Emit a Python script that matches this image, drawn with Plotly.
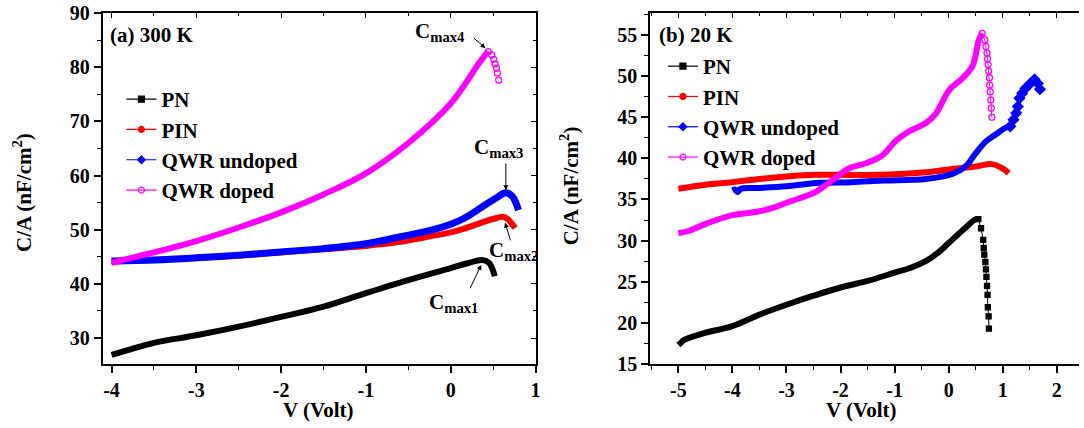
import plotly.graph_objects as go

# ---------------- DATA ----------------
# Panel (a) 300 K
pn_300_v = [-4.0, -3.8, -3.5, -3.0, -2.5, -2.0, -1.5, -1.0, -0.5, 0.0, 0.2, 0.37, 0.45, 0.49, 0.52]
pn_300_c = [26.9, 27.8, 29.1, 30.5, 32.1, 33.9, 35.8, 38.3, 40.7, 42.9, 43.8, 44.4, 43.9, 42.8, 41.4]

pin_300_v = [-4.0, -3.5, -3.0, -2.5, -2.0, -1.5, -1.0, -0.62, -0.23, 0.0, 0.16, 0.4, 0.55, 0.61, 0.67, 0.72, 0.76]
pin_300_c = [44.1, 44.4, 44.8, 45.2, 45.8, 46.4, 47.0, 47.7, 48.8, 49.5, 50.2, 51.5, 52.2, 52.4, 52.0, 51.1, 50.3]

qu_300_v = [-4.0, -3.5, -3.0, -2.5, -2.0, -1.5, -1.0, -0.62, -0.23, 0.0, 0.16, 0.4, 0.55, 0.65, 0.73, 0.77, 0.8]
qu_300_c = [44.2, 44.4, 44.8, 45.3, 45.9, 46.5, 47.4, 48.6, 49.9, 51.0, 52.1, 54.5, 56.0, 56.8, 56.1, 54.9, 53.6]

qd_300_v = [-4.0, -3.5, -3.0, -2.5, -2.0, -1.5, -1.0, -0.5, 0.0, 0.2, 0.31, 0.44]
qd_300_c = [43.9, 45.8, 47.9, 50.4, 53.2, 56.5, 60.4, 66.0, 73.3, 77.6, 80.2, 82.9]
qd_300_tail_v = [0.444, 0.484, 0.507, 0.523, 0.539, 0.55, 0.566]
qd_300_tail_c = [82.86, 82.25, 81.45, 80.6, 79.8, 78.9, 77.6]

# Panel (b) 20 K
pn_20_v = [-5.0, -4.95, -4.9, -4.5, -4.0, -3.5, -3.0, -2.5, -2.0, -1.5, -1.0, -0.7, -0.4, -0.2, 0.0, 0.3, 0.5, 0.55]
pn_20_c = [17.3, 17.6, 17.9, 18.8, 19.6, 21.0, 22.2, 23.3, 24.3, 25.1, 26.1, 26.7, 27.6, 28.5, 29.7, 31.5, 32.6, 32.6]
pn_20_tail_v = [0.55, 0.60, 0.64, 0.65, 0.66, 0.68, 0.69, 0.70, 0.71, 0.72, 0.725, 0.74, 0.745]
pn_20_tail_c = [32.6, 31.5, 30.1, 29.1, 28.3, 27.4, 26.5, 25.6, 24.5, 23.4, 21.9, 20.8, 19.3]

pin_20_v = [-5.0, -4.5, -4.0, -3.5, -3.0, -2.45, -2.0, -1.22, -0.42, 0.19, 0.5, 0.80, 0.99, 1.11]
pin_20_c = [36.3, 36.8, 37.1, 37.5, 37.8, 38.0, 38.0, 38.0, 38.3, 38.8, 39.0, 39.3, 38.8, 38.2]

qu_20_v = [-4.0, -3.95, -3.9, -3.85, -3.5, -3.0, -2.45, -1.8, -1.22, -0.42, 0.07, 0.31, 0.50, 0.68, 0.87, 1.05, 1.14]
qu_20_c = [36.1, 36.2, 35.9, 36.3, 36.4, 36.6, 37.0, 37.1, 37.3, 37.5, 38.1, 39.0, 40.6, 42.0, 42.9, 43.7, 43.9]
qu_20_tail_v = [1.14, 1.20, 1.25, 1.28, 1.31, 1.36, 1.42, 1.51, 1.59, 1.65, 1.69]
qu_20_tail_c = [43.9, 44.7, 45.5, 46.3, 47.3, 47.9, 48.5, 49.1, 49.6, 49.1, 48.4]

qd_20_v = [-5.0, -4.8, -4.47, -4.0, -3.55, -3.24, -3.0, -2.45, -2.14, -1.84, -1.53, -1.22,
           -0.98, -0.73, -0.42, -0.24, 0.01, 0.25, 0.44, 0.56, 0.62]
qd_20_c = [30.9, 31.2, 32.1, 33.1, 33.5, 34.0, 34.6, 35.96, 37.4, 38.8, 39.4, 40.4,
           42.1, 43.3, 44.3, 45.4, 48.3, 49.7, 51.2, 54.4, 55.2]
qd_20_tail_v = [0.62, 0.67, 0.69, 0.71, 0.72, 0.73, 0.74, 0.755, 0.76, 0.77, 0.78, 0.79, 0.80]
qd_20_tail_c = [55.2, 54.4, 53.6, 52.8, 52.1, 51.4, 50.6, 49.8, 48.9, 48.1, 47.1, 46.1, 45.0]

series_names = ["PN", "PIN", "QWR undoped", "QWR doped"]
series_colors = ["#000000", "#ff0000", "#0000ff", "#ff00ff"]
series_symbols = ["square", "circle", "diamond", "circle-open"]

xt_a_vals = [-4, -3, -2, -1, 0, 1]
xt_a_text = ["-4", "-3", "-2", "-1", "0", "1"]
yt_a_vals = [30, 40, 50, 60, 70, 80, 90]
xt_b_vals = [-5, -4, -3, -2, -1, 0, 1, 2]
xt_b_text = ["-5", "-4", "-3", "-2", "-1", "0", "1", "2"]
yt_b_vals = [15, 20, 25, 30, 35, 40, 45, 50, 55]

# ---------------- FIGURE ----------------
W, H = 1084, 428
ML, MR, MT, MB = 0, 0, 13, 64
FONT = "Liberation Serif"
fnt = dict(family=FONT, size=20, color="black", weight="bold")

fig = go.Figure()

def body(v, c, i, xa, ya, w=6):
    fig.add_trace(go.Scatter(x=v, y=c, mode="lines", xaxis=xa, yaxis=ya,
                             line=dict(color=series_colors[i], width=w, shape="spline"),
                             showlegend=False, hoverinfo="skip"))

def tail(v, c, i, xa, ya, size=6, lw=1):
    fig.add_trace(go.Scatter(x=v, y=c, mode="lines+markers", xaxis=xa, yaxis=ya,
                             line=dict(color=series_colors[i], width=lw),
                             marker=dict(symbol=series_symbols[i], size=size,
                                         color=series_colors[i],
                                         line=dict(color=series_colors[i], width=1.3)),
                             showlegend=False, hoverinfo="skip"))

# Panel (a)
body(pn_300_v, pn_300_c, 0, "x", "y")
body(pin_300_v, pin_300_c, 1, "x", "y")
body(qu_300_v, qu_300_c, 2, "x", "y", w=7)
body(qd_300_v, qd_300_c, 3, "x", "y", w=6)
tail(qd_300_tail_v, qd_300_tail_c, 3, "x", "y", size=6, lw=0)

# Panel (b)
body(pn_20_v, pn_20_c, 0, "x2", "y2")
tail(pn_20_tail_v, pn_20_tail_c, 0, "x2", "y2", size=5)
body(pin_20_v, pin_20_c, 1, "x2", "y2")
body(qu_20_v, qu_20_c, 2, "x2", "y2")
tail(qu_20_tail_v, qu_20_tail_c, 2, "x2", "y2", size=8, lw=4)
body(qd_20_v, qd_20_c, 3, "x2", "y2")
tail(qd_20_tail_v, qd_20_tail_c, 3, "x2", "y2", size=6)

# Legend entries (one set per panel); a single null point keeps them out of the plot
for lg, xa, ya in [("legend", "x", "y"), ("legend2", "x2", "y2")]:
    for i, nm in enumerate(series_names):
        fig.add_trace(go.Scatter(x=[None], y=[None], mode="lines+markers", name=nm, legend=lg,
                                 xaxis=xa, yaxis=ya, hoverinfo="skip",
                                 line=dict(color=series_colors[i], width=1.2),
                                 marker=dict(symbol=series_symbols[i], size=6,
                                             color=series_colors[i],
                                             line=dict(color=series_colors[i], width=1.2))))

# empty traces to activate the mirror axes
fig.add_trace(go.Scatter(x=[None], y=[None], xaxis="x3", yaxis="y", showlegend=False))
fig.add_trace(go.Scatter(x=[None], y=[None], xaxis="x", yaxis="y3", showlegend=False))
fig.add_trace(go.Scatter(x=[None], y=[None], xaxis="x4", yaxis="y2", showlegend=False))

xa_range = [-4.106, 1.0]
ya_range = [25.2, 90]
xb_range = [-5.525, 2.412]
yb_range = [15, 57.67]
dom_a = [103 / W, 538 / W]
dom_b = [653 / W, 1.0]

def main_axis(**kw):
    d = dict(showline=True, linecolor="black", linewidth=1.5, ticks="outside",
             ticklen=7, tickwidth=1.5, tickcolor="black", showgrid=False, zeroline=False,
             tickfont=fnt)
    d.update(kw)
    return d

def mirror_axis(**kw):
    d = dict(showline=True, linecolor="black", linewidth=1.5, ticks="inside",
             ticklen=5, tickwidth=1.2, tickcolor="black", showgrid=False, zeroline=False,
             showticklabels=False)
    d.update(kw)
    return d

fig.update_layout(
    width=W, height=H, margin=dict(l=ML, r=MR, t=MT, b=MB),
    paper_bgcolor="white", plot_bgcolor="white",
    font=dict(family=FONT, size=20, color="black", weight="bold"),
    xaxis=main_axis(domain=dom_a, range=xa_range, anchor="y", tickvals=xt_a_vals,
                    ticktext=xt_a_text,
                    minor=dict(ticks="outside", ticklen=4, tickwidth=1.2, dtick=0.5,
                               tick0=0, tickcolor="black")),
    yaxis=main_axis(domain=[0, 1], range=ya_range, anchor="x", tickvals=yt_a_vals,
                    minor=dict(ticks="outside", ticklen=4, tickwidth=1.2, dtick=5,
                               tick0=0, tickcolor="black")),
    xaxis3=mirror_axis(overlaying="x", side="top", anchor="y", range=xa_range, dtick=1,
                       tick0=0, minor=dict(ticks="inside", ticklen=3, dtick=0.5, tick0=0,
                                           tickcolor="black")),
    yaxis3=mirror_axis(overlaying="y", side="right", anchor="x", range=ya_range, dtick=10,
                       tick0=0, minor=dict(ticks="inside", ticklen=3, dtick=5, tick0=0,
                                           tickcolor="black")),
    xaxis2=main_axis(domain=dom_b, range=xb_range, anchor="y2", tickvals=xt_b_vals,
                     ticktext=xt_b_text,
                     minor=dict(ticks="outside", ticklen=4, tickwidth=1.2, dtick=0.5,
                                tick0=0, tickcolor="black")),
    yaxis2=main_axis(domain=[0, 1], range=yb_range, anchor="x2", tickvals=yt_b_vals,
                     minor=dict(ticks="outside", ticklen=4, tickwidth=1.2, dtick=2.5,
                                tick0=0, tickcolor="black")),
    xaxis4=mirror_axis(overlaying="x2", side="top", anchor="y2", range=xb_range, dtick=1,
                       tick0=0, minor=dict(ticks="inside", ticklen=3, dtick=0.5, tick0=0,
                                           tickcolor="black")),
    legend=dict(x=122 / W, y=(364 - 79) / 351, xanchor="left", yanchor="top",
                bgcolor="rgba(0,0,0,0)", font=dict(family=FONT, size=21, weight="bold"),
                tracegroupgap=0),
    legend2=dict(x=666 / W, y=(364 - 46) / 351, xanchor="left", yanchor="top",
                 bgcolor="rgba(0,0,0,0)", font=dict(family=FONT, size=21, weight="bold"),
                 tracegroupgap=0),
)

def px_x(px):
    return px / W

def px_y(py):
    return (364 - py) / 351

ann_font = dict(family=FONT, size=21, color="black", weight="bold")
annotations = [
    dict(text="(a) 300 K", x=px_x(109), y=px_y(35), xref="paper", yref="paper",
         xanchor="left", yanchor="middle", showarrow=False, font=ann_font),
    dict(text="(b) 20 K", x=px_x(660), y=px_y(35), xref="paper", yref="paper",
         xanchor="left", yanchor="middle", showarrow=False, font=ann_font),
    dict(text="V (Volt)", x=px_x(320), y=px_y(410), xref="paper", yref="paper",
         xanchor="center", yanchor="middle", showarrow=False, font=ann_font),
    dict(text="V (Volt)", x=px_x(865), y=px_y(410), xref="paper", yref="paper",
         xanchor="center", yanchor="middle", showarrow=False, font=ann_font),
    dict(text="C/A (nF/cm<sup>2</sup>)", x=px_x(22), y=px_y(192), xref="paper",
         yref="paper", xanchor="center", yanchor="middle", textangle=-90,
         showarrow=False, font=ann_font),
    dict(text="C/A (nF/cm<sup>2</sup>)", x=px_x(573), y=px_y(186), xref="paper",
         yref="paper", xanchor="center", yanchor="middle", textangle=-90,
         showarrow=False, font=ann_font),
]

# Cmax labels (text) and arrows, in data coordinates of panel (a)
cmax_labels = [("C<sub>max4</sub>", -0.127, 86.5), ("C<sub>max3</sub>", 0.56, 65.1),
               ("C<sub>max2</sub>", 0.736, 46.1), ("C<sub>max1</sub>", 0.032, 36.5)]
cmax_arrows = [(0.41, 83.5, 0.255, 85.6), (0.65, 57.3, 0.65, 62.5),
               (0.64, 51.3, 0.71, 47.75), (0.36, 43.5, 0.22, 38.9)]
for t, xv, yv in cmax_labels:
    annotations.append(dict(text=t, x=xv, y=yv, xref="x", yref="y", showarrow=False,
                            xanchor="center", yanchor="middle",
                            font=dict(family=FONT, size=21, color="black", weight="bold")))
for hx, hy, tx, ty in cmax_arrows:
    annotations.append(dict(text="", x=hx, y=hy, ax=tx, ay=ty, xref="x", yref="y",
                            axref="x", ayref="y", showarrow=True, arrowhead=2,
                            arrowsize=1, arrowwidth=1, arrowcolor="black"))

fig.update_layout(annotations=annotations)

fig.write_html("out.html", config={"displayModeBar": False},
               post_script="document.body.style.margin='0';document.body.style.overflow='hidden';")
